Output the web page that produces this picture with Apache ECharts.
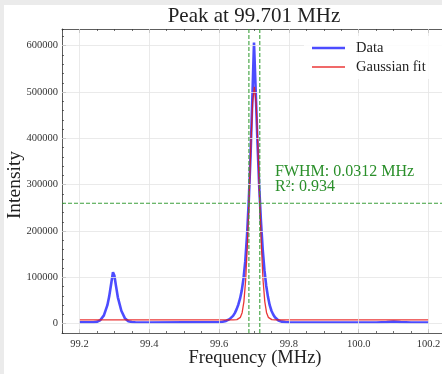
<!DOCTYPE html>
<html><head><meta charset="utf-8">
<script src="https://cdn.jsdelivr.net/npm/echarts@6/dist/echarts.min.js"></script>
<style>
html,body{margin:0;padding:0;width:442px;height:374px;overflow:hidden;background:#ebebeb;}
#chart{position:absolute;left:4px;top:5px;width:442px;height:369px;background:#fff;}
</style></head><body><div id="chart"></div>
<script>
// ---- data ----
const dataFreq = [99.20, 99.22, 99.24, 99.25, 99.26, 99.27, 99.28, 99.285, 99.29, 99.296, 99.30, 99.305, 99.31, 99.32, 99.33, 99.34, 99.35, 99.36, 99.40, 99.50,
  99.60, 99.61, 99.62, 99.63, 99.64, 99.645, 99.65, 99.655, 99.66, 99.665, 99.67, 99.675, 99.68, 99.685, 99.69, 99.695, 99.70,
  99.705, 99.71, 99.715, 99.72, 99.725, 99.73, 99.735, 99.74, 99.745, 99.75, 99.755, 99.76, 99.77, 99.78, 99.79, 99.80,
  99.90, 100.00, 100.05, 100.08, 100.10, 100.12, 100.15, 100.20];
const dataIntensity = [3000, 3000, 3000, 4000, 8000, 18000, 40000, 58000, 82000, 111000, 104000, 80000, 57000, 28000, 12000, 5500, 3500, 3000, 2800, 3000,
  3200, 4200, 6000, 10000, 17000, 23000, 31000, 41000, 54000, 72000, 98000, 135000, 190000, 265000, 360000, 480000, 607000,
  500000, 390000, 295000, 220000, 160000, 115000, 82000, 58000, 40000, 28000, 20000, 14000, 7000, 4500, 3500, 3000,
  2800, 2800, 2800, 3500, 4500, 3500, 2800, 2800];
const fitFreq = [99.20, 99.641, 99.646, 99.651, 99.656, 99.661, 99.666, 99.671, 99.676, 99.681, 99.686, 99.691, 99.696, 99.701,
  99.706, 99.711, 99.716, 99.721, 99.726, 99.731, 99.736, 99.741, 99.746, 99.751, 99.756, 99.761, 100.20];
const fitIntensity = [8500, 8500, 8600, 8900, 10070, 13800, 23800, 47200, 93300, 169300, 273300, 386500, 476500, 511000,
  476500, 386500, 273300, 169300, 93300, 47200, 23800, 13800, 10070, 8900, 8600, 8500, 8500];
const peakFreq = 99.701;
const fwhmText = 'FWHM: 0.0312 MHz';
const r2Text = 'R²: 0.934';
const fwhmEdges = [99.6854, 99.7166];
const halfMax = 260000;
const xTicks = [99.2, 99.4, 99.6, 99.8, 100.0, 100.2];
const yTicks = [0, 100000, 200000, 300000, 400000, 500000, 600000];
const xRange = [99.15, 100.25];
const yRange = [-20000, 636000];
const legendNames = ['Data', 'Gaussian fit'];

const FONT = "'Liberation Serif', 'DejaVu Serif', serif";
const AX = '#333';
const BLUE = 'rgba(0,0,255,0.7)';
const RED = 'rgba(230,20,20,0.85)';
const GREEN = 'rgb(60,160,60)';
const chart = echarts.init(document.getElementById('chart'), null, {renderer: 'canvas'});

function majorX(pos, labels) {
  return {type: 'value', gridIndex: 0, position: pos, min: xRange[0], max: xRange[1],
    axisLine: {show: true, onZero: false, lineStyle: {color: AX, width: 0.8}},
    axisTick: {show: true, inside: true, length: 4, customValues: xTicks, lineStyle: {color: AX, width: 0.8}},
    axisLabel: {show: labels, customValues: xTicks, formatter: v => v.toFixed(1), margin: 6, fontSize: 10.5, fontFamily: FONT, color: AX},
    splitLine: {show: false}};
}
function minorX(pos) {
  return {type: 'value', gridIndex: 0, position: pos, min: xRange[0], max: xRange[1], interval: 0.05,
    axisLine: {show: false, onZero: false}, axisLabel: {show: false},
    axisTick: {show: true, inside: true, length: 2, lineStyle: {color: AX, width: 0.7}},
    splitLine: {show: false}};
}
function dashed(points) {
  return {type: 'line', data: points, symbol: 'none', silent: true, z: 5,
    lineStyle: {color: GREEN, width: 1.1, type: [4, 2]}};
}

chart.setOption({
  animation: false,
  backgroundColor: '#fff',
  grid: {left: 58, right: 0, top: 24, bottom: 41, containLabel: false},
  xAxis: [majorX('bottom', true), minorX('bottom'), majorX('top', false), minorX('top')],
  yAxis: [
    {type: 'value', position: 'left', min: yRange[0], max: yRange[1],
      axisLine: {show: true, onZero: false, lineStyle: {color: AX, width: 0.8}},
      axisTick: {show: true, inside: true, length: 4, customValues: yTicks, lineStyle: {color: AX, width: 0.8}},
      axisLabel: {customValues: yTicks, formatter: v => String(v), margin: 4, fontSize: 10.5, fontFamily: FONT, color: AX},
      splitLine: {show: false}},
    {type: 'value', position: 'left', min: yRange[0], max: yRange[1], interval: 20000,
      axisLine: {show: false, onZero: false}, axisLabel: {show: false},
      axisTick: {show: true, inside: true, length: 2, lineStyle: {color: AX, width: 0.7}},
      splitLine: {show: false}}
  ],
  series: [
    {name: 'grid', type: 'line', data: [[xRange[0], yRange[0]]], symbol: 'none', lineStyle: {opacity: 0}, z: 1, silent: true,
      markLine: {silent: true, symbol: ['none', 'none'], label: {show: false}, animation: false,
        lineStyle: {color: '#e4e4e4', width: 0.8, type: 'solid'},
        data: xTicks.map(v => ({xAxis: v})).concat(yTicks.map(v => ({yAxis: v})))}},
    {name: legendNames[0], type: 'line', data: dataFreq.map((f, i) => [f, dataIntensity[i]]), symbol: 'none', smooth: false,
      lineStyle: {color: BLUE, width: 2.6}, itemStyle: {color: BLUE}, z: 3},
    {name: legendNames[1], type: 'line', data: fitFreq.map((f, i) => [f, fitIntensity[i]]), symbol: 'none',
      lineStyle: {color: RED, width: 1.3}, itemStyle: {color: RED}, z: 4},
    dashed([[fwhmEdges[0], yRange[0]], [fwhmEdges[0], yRange[1]]]),
    dashed([[fwhmEdges[1], yRange[0]], [fwhmEdges[1], yRange[1]]]),
    dashed([[xRange[0], halfMax], [xRange[1], halfMax]])
  ],
  graphic: [
    {type: 'text', z: 100, x: 250, y: 11, style: {text: 'Peak at ' + peakFreq.toFixed(3) + ' MHz', font: '21px ' + FONT, fill: '#222', align: 'center', verticalAlign: 'middle'}},
    {type: 'text', z: 100, x: 251, y: 353, style: {text: 'Frequency (MHz)', font: '18.5px ' + FONT, fill: '#222', align: 'center', verticalAlign: 'middle'}},
    {type: 'text', z: 100, x: 11, y: 180, rotation: Math.PI / 2, style: {text: 'Intensity', font: '19.5px ' + FONT, fill: '#222', align: 'center', verticalAlign: 'middle'}},
    {type: 'text', z: 100, x: 271, y: 167, style: {text: fwhmText, font: '16px ' + FONT, fill: '#2a8f2a', align: 'left', verticalAlign: 'middle'}},
    {type: 'text', z: 100, x: 271, y: 182, style: {text: r2Text, font: '16px ' + FONT, fill: '#2a8f2a', align: 'left', verticalAlign: 'middle'}},
    // legend (matplotlib-style frame without edge)
    {type: 'rect', z: 100, shape: {x: 300, y: 31, width: 142, height: 43}, style: {fill: 'rgba(255,255,255,0.85)', stroke: null}},
    {type: 'line', z: 101, shape: {x1: 308, y1: 43, x2: 341, y2: 43}, style: {stroke: BLUE, lineWidth: 2.6}},
    {type: 'text', z: 101, x: 352, y: 43, style: {text: legendNames[0], font: '14.5px ' + FONT, fill: '#222', align: 'left', verticalAlign: 'middle'}},
    {type: 'line', z: 101, shape: {x1: 308, y1: 62, x2: 341, y2: 62}, style: {stroke: RED, lineWidth: 1.3}},
    {type: 'text', z: 101, x: 352, y: 62, style: {text: legendNames[1], font: '14.5px ' + FONT, fill: '#222', align: 'left', verticalAlign: 'middle'}}
  ]
});
</script></body></html>
